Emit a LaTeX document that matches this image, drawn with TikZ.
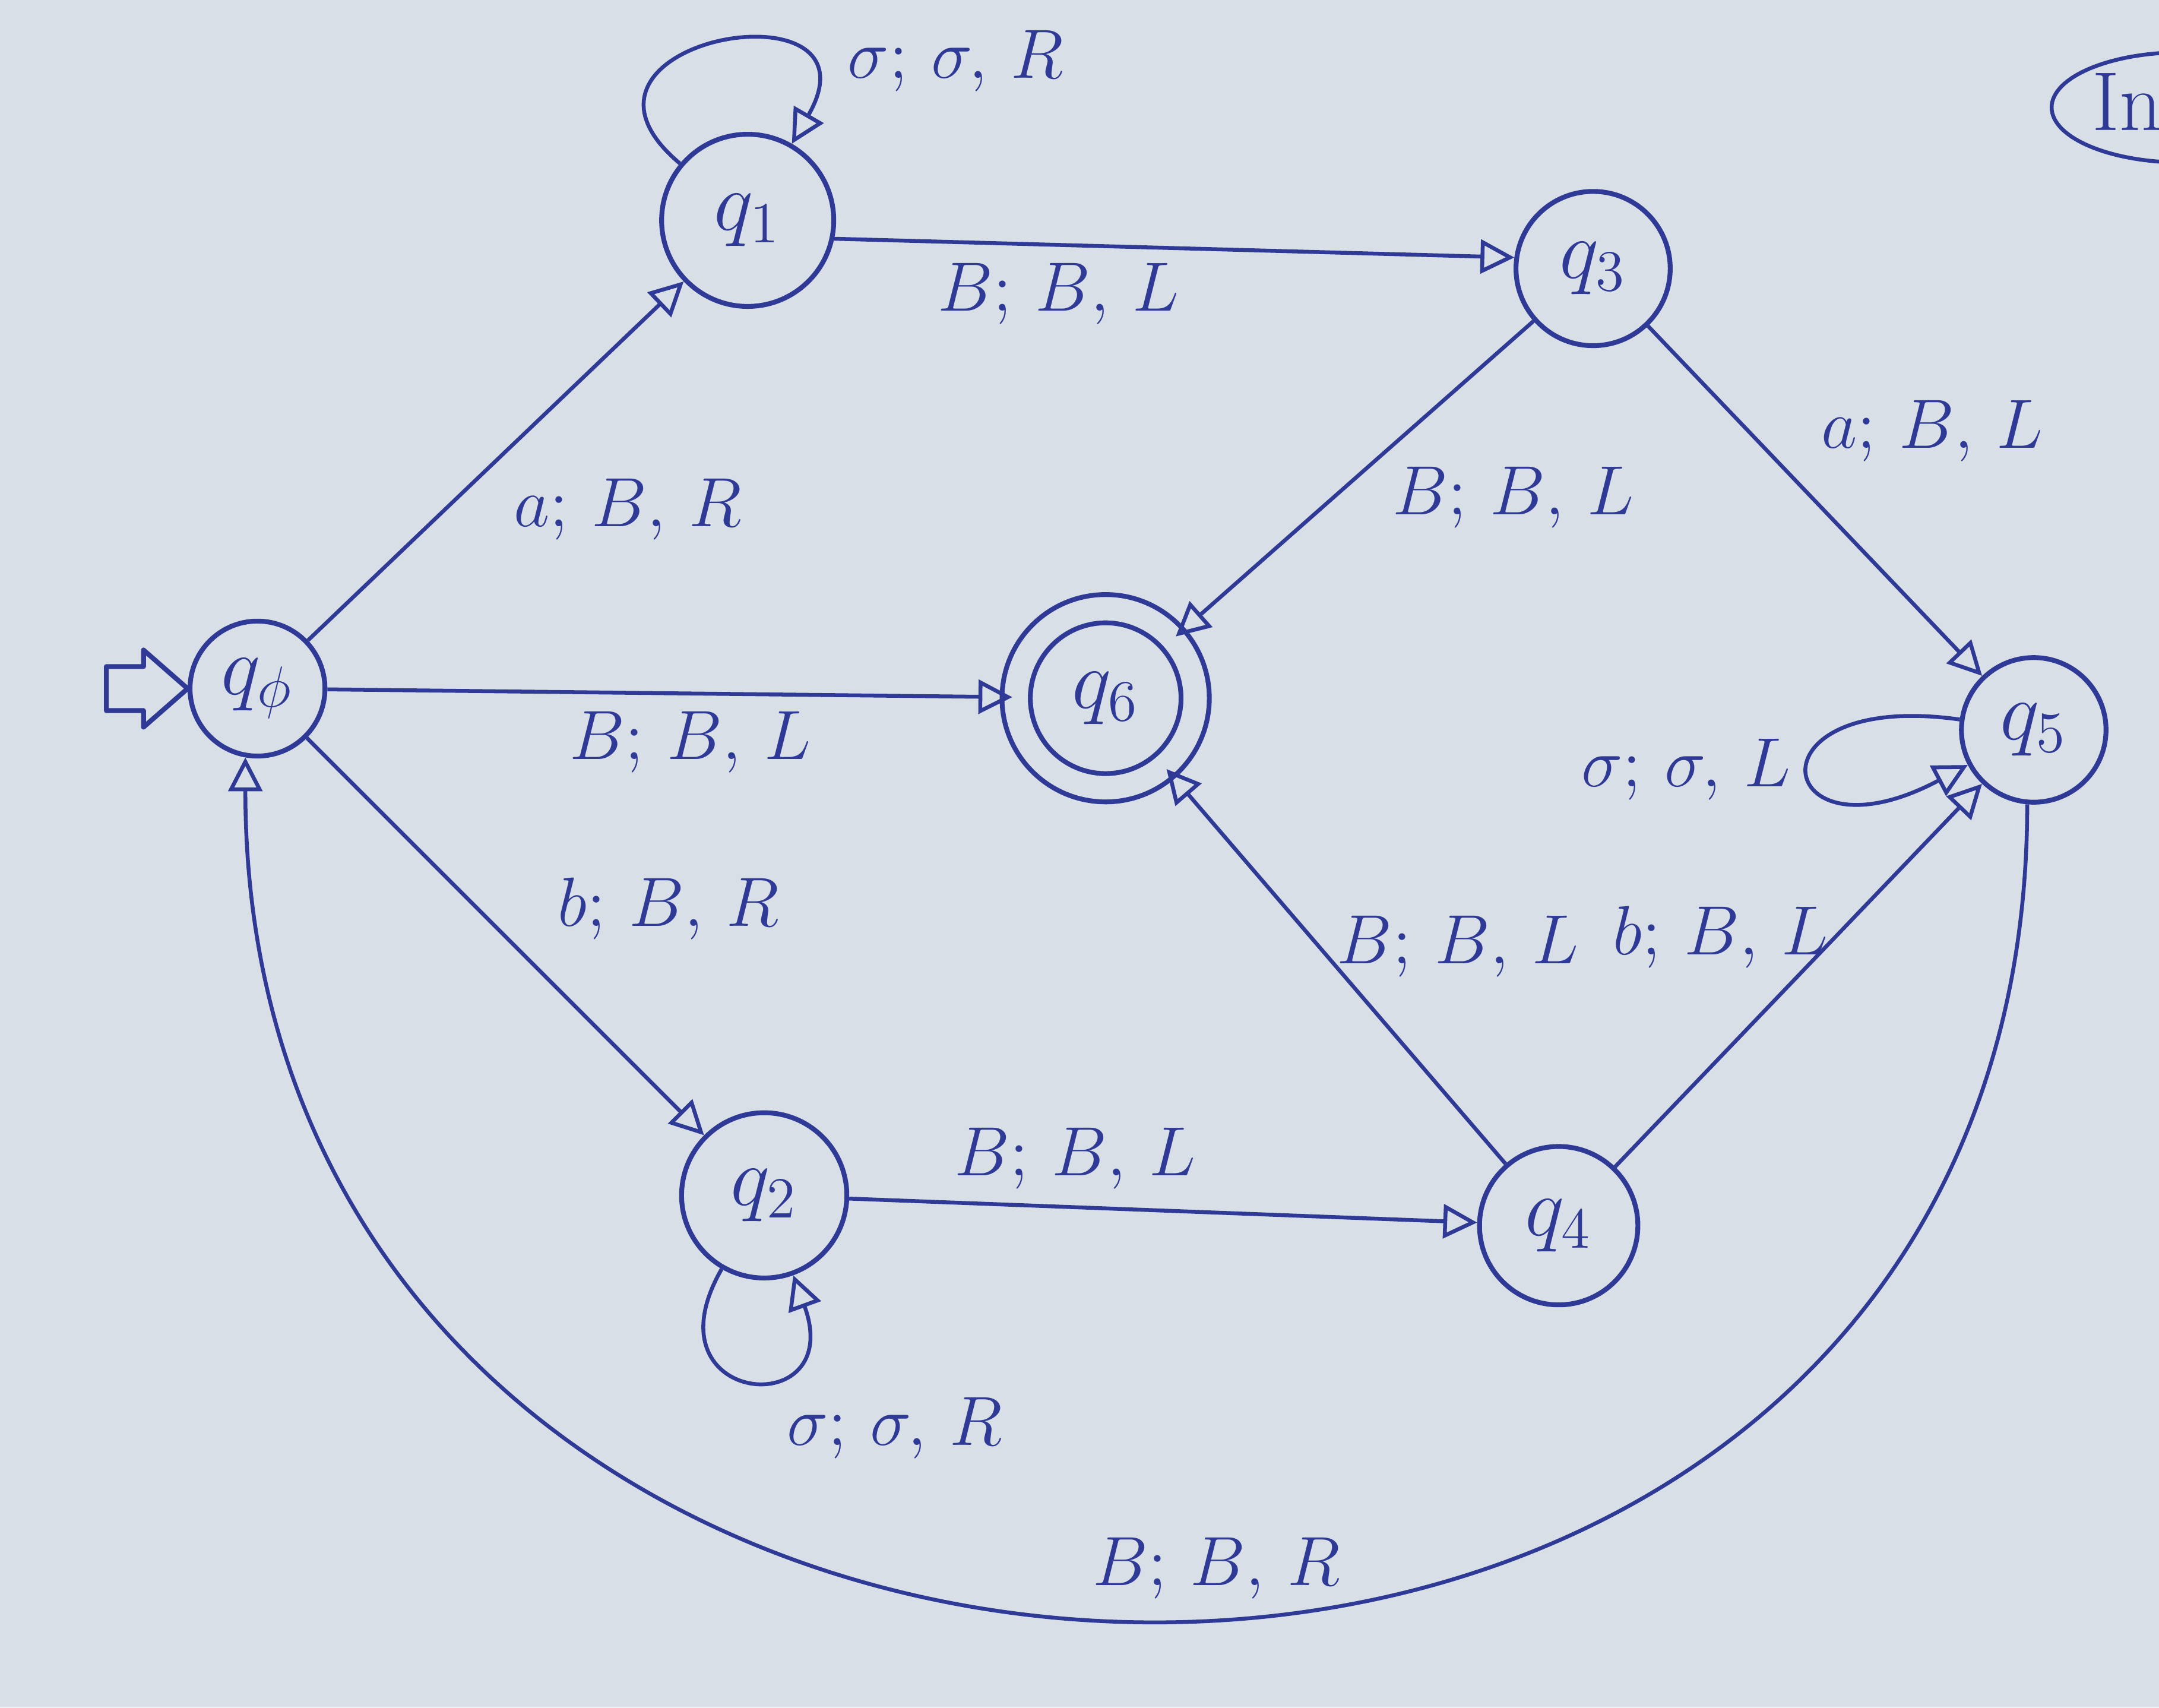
\documentclass[tikz,border=0pt]{standalone}
\usepackage{amsmath}
\usetikzlibrary{
  automata,
  arrows.meta,
  calc
}

\definecolor{paper}{HTML}{D8DFE6}
\definecolor{ink}{HTML}{2F3A97}

\begin{document}
\begin{tikzpicture}[node distance = 1cm,
    every state/.style = {draw=ink, line width=1pt, text=ink, inner sep=0pt, font=\LARGE},
    >={Triangle[open, length=7pt, width=7pt]},
    every edge/.style = {draw=ink, line width=0.8pt},
    lab/.style = {text=ink, font=\Large}]
    \useasboundingbox (0,0) rectangle (15.68,12.40);
    \fill[paper] (0,0) rectangle (15.68,12.40);

    \node[state, minimum size=0.98cm] (q0) at (1.87,7.40) {$q_\phi$};
    \node[state, minimum size=1.25cm] (q1) at (5.43,10.80) {$q_1$};
    \node[state, minimum size=1.12cm] (q3) at (11.57,10.45) {$q_3$};
    \node[state, accepting, double=paper, double distance=0.17cm, minimum size=1.3cm] (q6) at (8.03,7.33) {$q_6$};
    \node[state, minimum size=1.05cm] (q5) at (14.77,7.10) {$q_5$};
    \node[state, minimum size=1.2cm] (q2) at (5.55,3.72) {$q_2$};
    \node[state, minimum size=1.15cm] (q4) at (11.32,3.50) {$q_4$};

    % start arrow
    \draw[ink, line width=1pt, line join=round] (q0.west) -- ++(-0.32,0.28) -- ++(0,-0.12)
      -- ++(-0.27,0) -- ++(0,-0.32) -- ++(0.27,0) -- ++(0,-0.12) -- cycle;

    \path[->] (q0) edge node[lab, anchor=north west] {$a;\,B,\,R$} (q1);
    \path[->] (q0) edge node[lab, below, pos=0.53] {$B;\,B,\,L$} (q6);
    \path[->] (q0) edge node[lab, right=0.45cm, pos=0.43] {$b;\,B,\,R$} (q2);
    \path[->] (q1) edge[out=140, in=60, min distance=1.4cm, looseness=1]
      node[lab, anchor=west, xshift=0.82cm, yshift=-0.12cm] {$\sigma;\,\sigma,\,R$} (q1);
    \path[->] (q1.-12) edge node[lab, below, pos=0.33] {$B;\,B,\,L$} (q3.172);
    \path[->] (q3) edge node[lab, right=0.3cm, pos=0.56] {$B;\,B,\,L$} (q6);
    \path[->] (q3) edge node[lab, right=0.4cm, pos=0.3] {$a;\,B,\,L$} (q5);
    \path[->] (q5) edge[out=172, in=208, min distance=1.6cm, looseness=1]
      node[lab, left] {$\sigma;\,\sigma,\,L$} (q5);
    \path[->] (q2) edge[out=240, in=290, min distance=1.15cm, looseness=1]
      node[lab, anchor=north west, xshift=0.15cm] {$\sigma;\,\sigma,\,R$} (q2);
    \path[->] (q2) edge node[lab, above, pos=0.36] {$B;\,B,\,L$} (q4);
    \path[->] (q4) edge node[lab, anchor=west, pos=0.55] {$B;\,B,\,L$} (q6);
    \path[->] (q4) edge node[lab, anchor=east, xshift=0.08cm, pos=0.6] {$b;\,B,\,L$} (q5);
    \path[->] (q5.-95) edge[out=-90, in=-90, looseness=1.6]
      node[lab, above, pos=0.47] {$B;\,B,\,R$} (q0.-100);

    % note in the corner
    \draw[ink, line width=0.8pt] (15.85,11.62) ellipse (0.95 and 0.4);
    \node[text=ink, font=\LARGE] (note) at (15.45,11.66) {In};
\end{tikzpicture}
\end{document}
